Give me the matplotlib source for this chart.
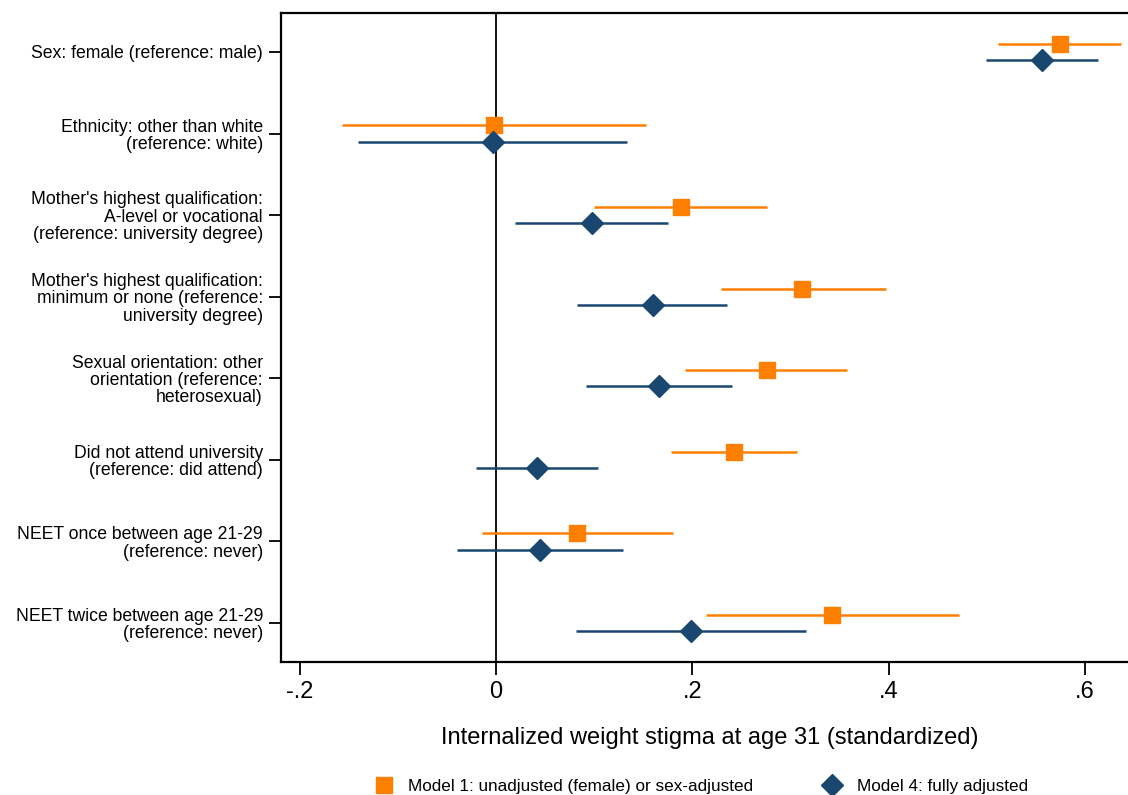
import numpy as np
import matplotlib
matplotlib.use("Agg")
import matplotlib.pyplot as plt
from matplotlib.lines import Line2D

plt.rcParams['font.family'] = ['Liberation Sans', 'DejaVu Sans']

# ---- data ----
labels = [
    "Sex: female (reference: male)",
    "Ethnicity: other than white\n(reference: white)",
    "Mother's highest qualification:\nA-level or vocational\n(reference: university degree)",
    "Mother's highest qualification:\nminimum or none (reference:\nuniversity degree)",
    "Sexual orientation: other\norientation (reference:\nheterosexual)",
    "Did not attend university\n(reference: did attend)",
    "NEET once between age 21-29\n(reference: never)",
    "NEET twice between age 21-29\n(reference: never)",
]

m1_est = [0.575, -0.002, 0.188, 0.312, 0.276, 0.242, 0.083, 0.342]
m1_lo = [0.511, -0.157, 0.100, 0.229, 0.193, 0.178, -0.014, 0.214]
m1_hi = [0.637, 0.153, 0.276, 0.397, 0.358, 0.307, 0.180, 0.472]

m4_est = [0.556, -0.003, 0.098, 0.160, 0.166, 0.042, 0.045, 0.199]
m4_lo = [0.499, -0.141, 0.019, 0.083, 0.092, -0.020, -0.040, 0.081]
m4_hi = [0.613, 0.133, 0.175, 0.235, 0.240, 0.104, 0.129, 0.316]

orange = '#ff7f00'
navy = '#1a476f'

fig = plt.figure(figsize=(11.28, 7.95), dpi=100)
ax = fig.add_axes([281/1128, 133/795, 858/1128, 649/795])

ypos = np.arange(len(labels))
off = 0.1

ax.axvline(0, color='black', lw=1.3, zorder=1)

ax.hlines(ypos - off, m1_lo, m1_hi, color=orange, lw=1.8, zorder=2)
ax.plot(m1_est, ypos - off, 's', color=orange, markersize=12, zorder=3)
ax.hlines(ypos + off, m4_lo, m4_hi, color=navy, lw=1.8, zorder=2)
ax.plot(m4_est, ypos + off, 'D', color=navy, markersize=11.5, zorder=3)

ax.set_xlim(-0.219, 0.655)
ax.set_ylim(len(labels) - 1 + 0.478, -0.478)

ax.set_xticks([-0.2, 0, 0.2, 0.4, 0.6])
ax.set_xticklabels(['-.2', '0', '.2', '.4', '.6'], fontsize=17)
ax.set_yticks(ypos)
ax.set_yticklabels(labels, fontsize=12.7, linespacing=1.03)

ax.tick_params(axis='both', direction='out', length=9, width=1.3)
ax.tick_params(axis='x', pad=5)
ax.tick_params(axis='y', pad=4)

for s in ['left', 'bottom', 'top']:
    ax.spines[s].set_linewidth(1.6)
ax.spines['right'].set_visible(False)

ax.set_xlabel("Internalized weight stigma at age 31 (standardized)", fontsize=17, labelpad=17)

handles = [
    Line2D([], [], marker='s', color=orange, linestyle='none', markersize=12),
    Line2D([], [], marker='D', color=navy, linestyle='none', markersize=11.5),
]
fig.legend(handles, ["Model 1: unadjusted (female) or sex-adjusted", "Model 4: fully adjusted"],
           loc='center', bbox_to_anchor=(0.618, 0.011), ncol=2, frameon=False,
           fontsize=12.3, handletextpad=0.43, columnspacing=3.62)

fig.savefig('out.png', dpi=100)
